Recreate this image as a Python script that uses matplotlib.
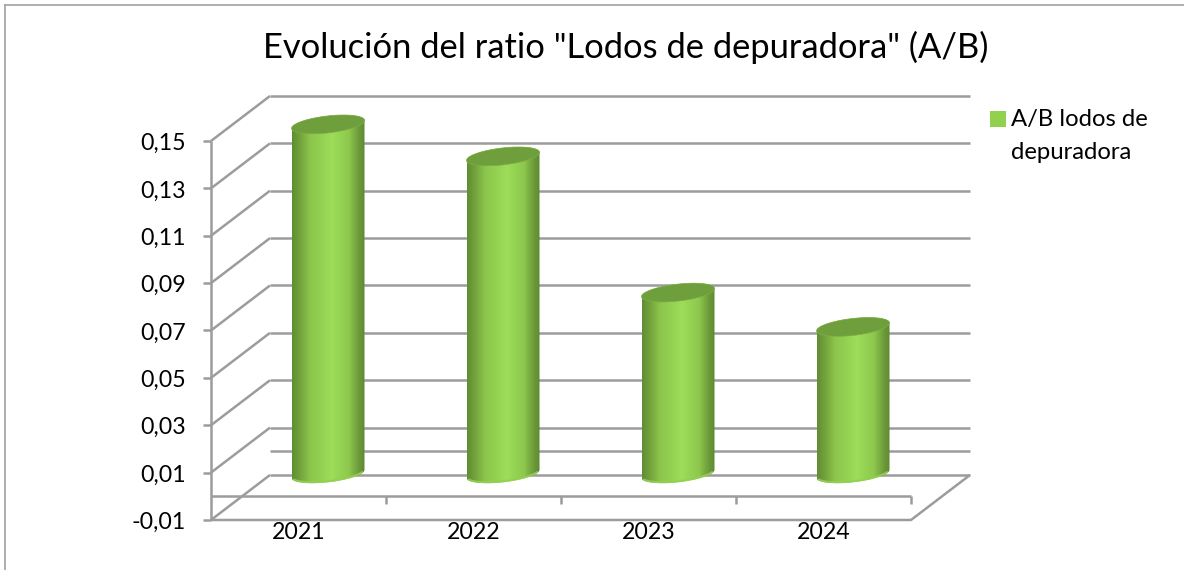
import numpy as np
import matplotlib
matplotlib.use("Agg")
import matplotlib.pyplot as plt
from matplotlib.colors import LinearSegmentedColormap
from matplotlib.lines import Line2D
from matplotlib.patches import Patch, Polygon

# ---- data ----
title = 'Evolución del ratio "Lodos de depuradora" (A/B)'
series_name = "A/B lodos de\ndepuradora"
categories = ["2021", "2022", "2023", "2024"]
values = [0.1475, 0.134, 0.0765, 0.062]
y_ticks = [-0.01, 0.01, 0.03, 0.05, 0.07, 0.09, 0.11, 0.13, 0.15]

# ---- style / layout ----
W, H = 1184, 570
X0, CAT_W = 211.0, 175.0          # pixel position of category 0 edge, pixels per category
Y0, PX_PER_UNIT = 496.3, 2368.75  # pixel row of value 0, pixels per value unit
DEPTH_X = 59 / CAT_W              # 3D depth offset, in data units
DEPTH_Y = 45 / PX_PER_UNIT
GRID = "#9c9c9c"
LW = 1.8
FONT = "Lato"
TICK_FS = 16.7

plt.rcParams["font.family"] = [FONT, "DejaVu Sans"]
fig = plt.figure(figsize=(W / 100, H / 100), dpi=100, facecolor="white")
ax = fig.add_axes([0, 0, 1, 1])
ax.set_xlim(-X0 / CAT_W, (W - X0) / CAT_W)
ax.set_ylim((Y0 - H) / PX_PER_UNIT, Y0 / PX_PER_UNIT)
ax.axis("off")

n = len(categories)


def seg(xs, ys, **kw):
    ax.plot(xs, ys, color=GRID, lw=LW, solid_capstyle="butt", zorder=kw.pop("zorder", 1), **kw)


# back wall and side wall grid
for v in y_ticks:
    seg([DEPTH_X, n + DEPTH_X], [v + DEPTH_Y] * 2)
    seg([0, DEPTH_X], [v, v + DEPTH_Y])
    seg([-8 / CAT_W, 0], [v, v])
    ax.text(-25 / CAT_W, v - 2.5 / PX_PER_UNIT, f"{v:.2f}".replace(".", ","), ha="right", va="center",
            fontsize=TICK_FS, color="black")
# floor at value zero
seg([DEPTH_X, n + DEPTH_X], [DEPTH_Y, DEPTH_Y])
seg([0, n], [0, 0])
for i in range(1, n + 1):
    seg([i, i], [0, -8 / PX_PER_UNIT])
# front frame
seg([0, 0], [y_ticks[0], y_ticks[-1]])
seg([0, n, n + DEPTH_X], [y_ticks[0], y_ticks[0], y_ticks[0] + DEPTH_Y])

# cylinders
cmap = LinearSegmentedColormap.from_list(
    "cyl",
    [(0, "#5f8e34"), (0.10, "#71a03c"), (0.25, "#8cc64c"), (0.55, "#9cdd59"),
     (0.78, "#8ec84d"), (0.92, "#6c9a3a"), (1, "#5c8a31")],
)
grad = np.linspace(0, 1, 256)[None, :]
HALF_W = 36.5 / CAT_W
ELL_B = 8.5 / PX_PER_UNIT
ELL_K = 4.0 / PX_PER_UNIT
t = np.linspace(0, 2 * np.pi, 121)


def ellipse(cx, cy, tt):
    return cx + HALF_W * np.cos(tt), cy + ELL_B * np.sin(tt) + ELL_K * np.cos(tt)


lower = np.linspace(np.pi, 2 * np.pi, 61)
upper = np.linspace(0, np.pi, 61)
rim = np.linspace(1.12 * np.pi, 1.88 * np.pi, 41)
for i, v in enumerate(values):
    cx = i + 0.5 + DEPTH_X / 2
    base = DEPTH_Y / 2
    top = v + DEPTH_Y / 2
    bx, by = ellipse(cx, base, lower)
    tx, ty = ellipse(cx, top, upper)
    body = Polygon(np.column_stack([np.r_[bx, tx], np.r_[by, ty]]), closed=True,
                   transform=ax.transData, facecolor="none", edgecolor="none")
    ax.add_patch(body)
    im = ax.imshow(grad, cmap=cmap, aspect="auto", zorder=3, interpolation="bilinear",
                   extent=(cx - HALF_W, cx + HALF_W, base - 0.006, top + 0.006))
    im.set_clip_path(body)
    rx, ry = ellipse(cx, base + 1.0 / PX_PER_UNIT, rim)
    ax.plot(rx, ry, color="#93d052", lw=1.4, zorder=3.5, alpha=0.9)
    ex, ey = ellipse(cx, top, t)
    ax.fill(ex, ey, facecolor="#6f9e3d", edgecolor="#7fae46", lw=0.5, zorder=4)
    ax.text(i + 0.5, -0.0151, categories[i], ha="center", va="center", fontsize=TICK_FS, color="black")

ax.set_xlim(-X0 / CAT_W, (W - X0) / CAT_W)
ax.set_ylim((Y0 - H) / PX_PER_UNIT, Y0 / PX_PER_UNIT)

fig.text(625.5 / W, 1 - 47.5 / H, title, ha="center", va="center", fontsize=24.8, color="black")

leg = ax.legend(
    handles=[Patch(facecolor="#92d050", edgecolor="none", label=series_name)],
    loc="upper left", bbox_to_anchor=(985.5 / W, 1 - 104 / H), bbox_transform=fig.transFigure,
    frameon=False, fontsize=17.2, handlelength=0.66, handleheight=0.66,
    handletextpad=0.22, borderpad=0.2, borderaxespad=0, labelspacing=0,
)
for txt in leg.get_texts():
    txt.set_linespacing(1.73)
for p in leg.get_patches():
    p.set_y(p.get_y() + 12.2)

# chart-area border (top and left only are visible)
for xs, ys in [([5, W], [5, 5]), ([5, 5], [5, H])]:
    fig.add_artist(Line2D([x / W for x in xs], [1 - y / H for y in ys], color="#a8a8a8", lw=1.3))

fig.savefig("out.png", dpi=100, facecolor="white")
